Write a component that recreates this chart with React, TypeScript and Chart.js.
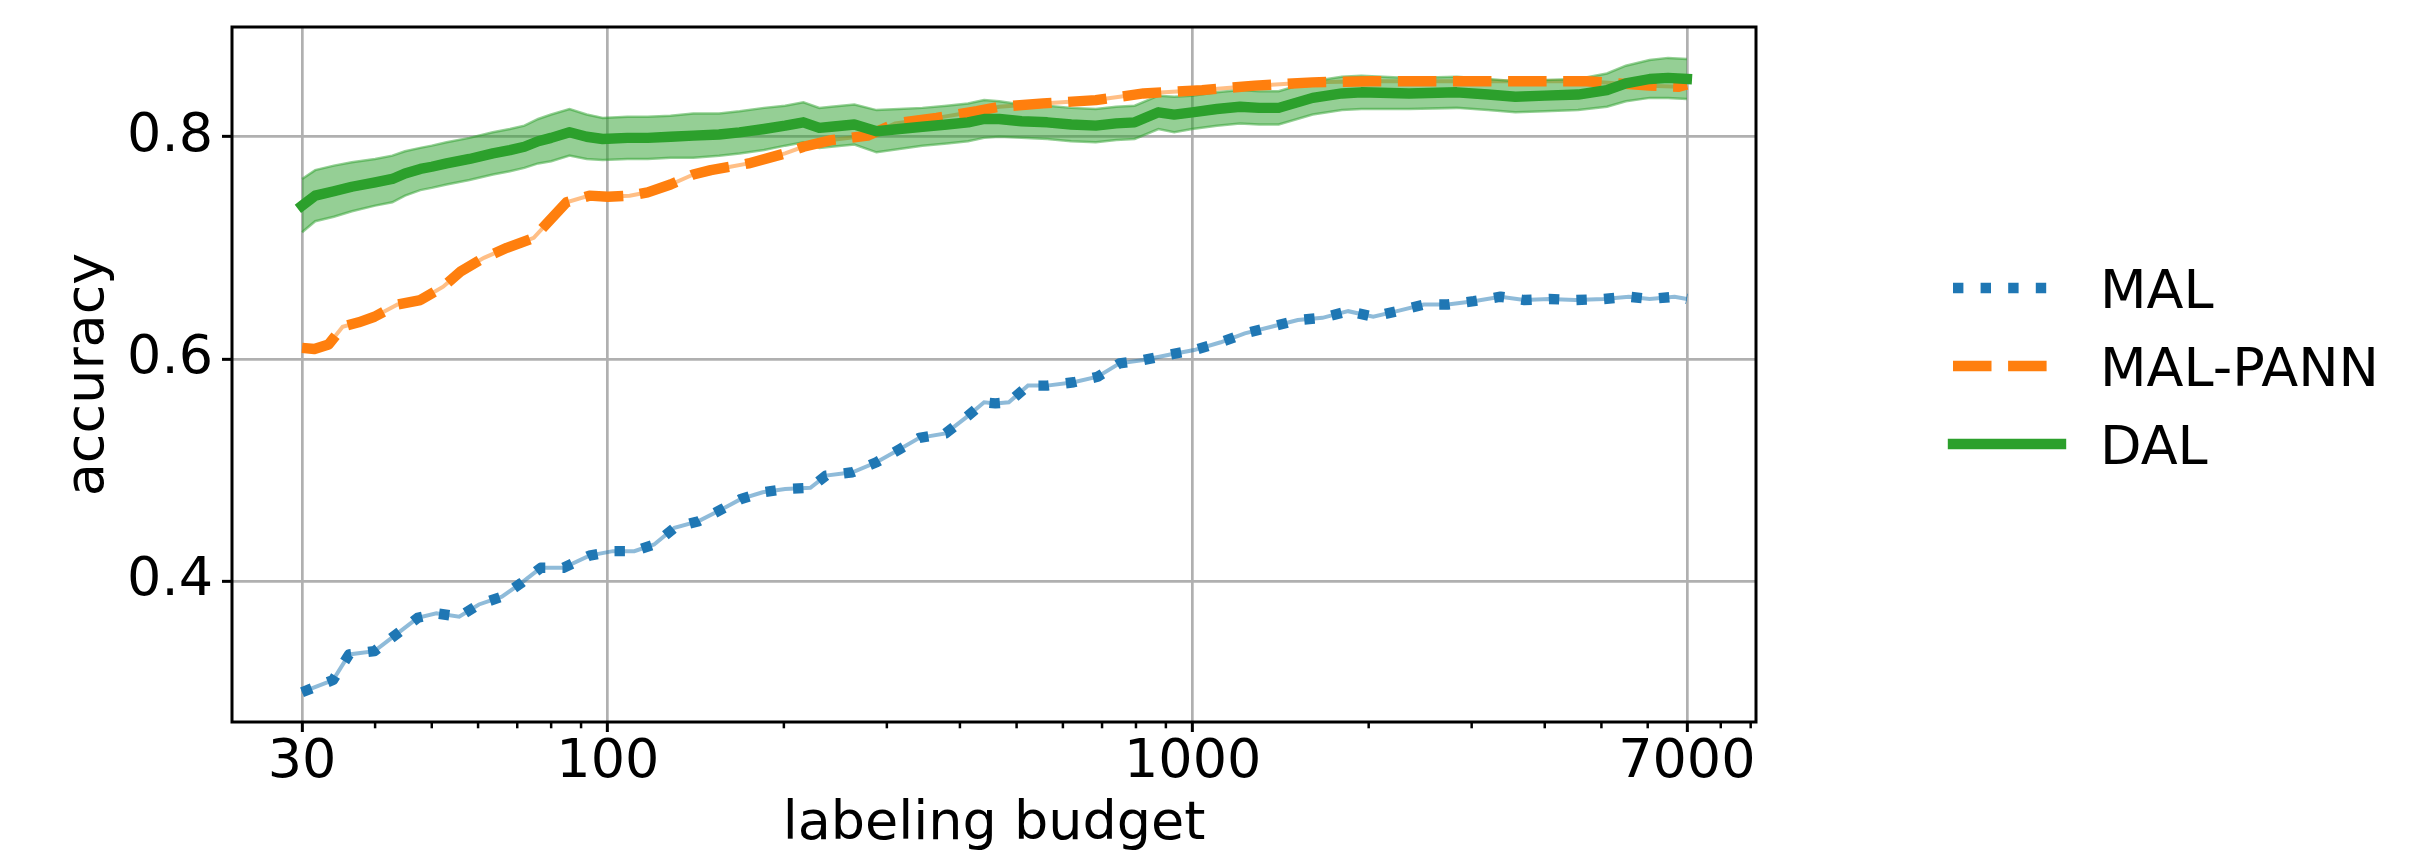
import React, { useEffect, useRef } from 'react';
import { Chart, registerables } from 'chart.js';

Chart.register(...registerables);

// ---------- data ----------
const MAL_X = [30, 33.9, 36.1, 39.9, 43.7, 47.3, 50.9, 55.7, 60.2, 65.9, 71, 76.8, 84, 93, 102, 111, 120, 130, 143, 157, 169, 184, 201, 222, 236, 262, 288, 316, 341, 378, 409, 440, 460, 485, 523, 564, 626, 688, 750, 824, 916, 1006, 1117, 1228, 1364, 1513, 1667, 1845, 2036, 2236, 2485, 2730, 3025, 3360, 3690, 4070, 4510, 5050, 5570, 6045, 6670, 7000];
const MAL_Y = [0.300, 0.311, 0.334, 0.337, 0.353, 0.367, 0.371, 0.368, 0.379, 0.386, 0.398, 0.412, 0.412, 0.423, 0.427, 0.427, 0.433, 0.448, 0.454, 0.465, 0.474, 0.480, 0.483, 0.484, 0.495, 0.498, 0.507, 0.519, 0.529, 0.533, 0.547, 0.561, 0.560, 0.561, 0.576, 0.576, 0.579, 0.584, 0.596, 0.599, 0.604, 0.608, 0.615, 0.623, 0.629, 0.635, 0.637, 0.643, 0.638, 0.643, 0.649, 0.649, 0.652, 0.656, 0.653, 0.654, 0.653, 0.654, 0.656, 0.654, 0.656, 0.654];

const PANN_X = [30, 31.5, 33.3, 35.2, 37.5, 39.9, 43.7, 47.8, 52.3, 56.1, 61.4, 67.2, 74.7, 79, 85, 93, 100, 109, 117, 128, 140, 150, 162, 174, 201, 216, 241, 278, 310, 365, 428, 467, 555, 683, 824, 1038, 1278, 1604, 2013, 2485, 3060, 3766, 4720, 6045, 6780, 7000];
const PANN_Y = [0.610, 0.609, 0.613, 0.629, 0.633, 0.638, 0.649, 0.653, 0.665, 0.679, 0.691, 0.700, 0.709, 0.723, 0.741, 0.747, 0.746, 0.747, 0.750, 0.757, 0.766, 0.770, 0.773, 0.776, 0.785, 0.791, 0.797, 0.801, 0.812, 0.817, 0.823, 0.827, 0.830, 0.833, 0.839, 0.842, 0.846, 0.849, 0.850, 0.850, 0.850, 0.850, 0.850, 0.846, 0.845, 0.847];

const DAL_X = [30, 31.6, 34, 36.5, 40, 42.8, 45, 47.8, 50, 53, 58, 63.6, 68, 72, 76, 80, 86, 92, 98, 108, 117, 128, 140, 155, 168, 185, 201, 216, 230, 241, 264, 288, 315, 345, 380, 413, 440, 467, 510, 564, 620, 683, 740, 796, 874, 930, 998, 1100, 1205, 1300, 1403, 1604, 1800, 1942, 2344, 2829, 3200, 3564, 4000, 4560, 5110, 5505, 6045, 6500, 7000];
const DAL_Y = [0.738, 0.747, 0.751, 0.755, 0.759, 0.762, 0.767, 0.771, 0.773, 0.776, 0.780, 0.785, 0.788, 0.791, 0.796, 0.799, 0.804, 0.800, 0.798, 0.799, 0.799, 0.800, 0.801, 0.802, 0.804, 0.807, 0.810, 0.813, 0.808, 0.809, 0.811, 0.805, 0.807, 0.809, 0.811, 0.813, 0.816, 0.816, 0.814, 0.813, 0.811, 0.810, 0.812, 0.813, 0.822, 0.820, 0.822, 0.825, 0.827, 0.826, 0.826, 0.835, 0.839, 0.840, 0.839, 0.840, 0.838, 0.836, 0.837, 0.838, 0.842, 0.848, 0.852, 0.853, 0.852];
const DAL_SD = [0.024, 0.023, 0.023, 0.022, 0.021, 0.021, 0.020, 0.019, 0.019, 0.019, 0.019, 0.019, 0.019, 0.019, 0.020, 0.021, 0.021, 0.020, 0.019, 0.019, 0.019, 0.019, 0.020, 0.019, 0.019, 0.019, 0.018, 0.018, 0.018, 0.018, 0.018, 0.019, 0.018, 0.017, 0.017, 0.017, 0.017, 0.016, 0.015, 0.015, 0.015, 0.015, 0.015, 0.015, 0.015, 0.016, 0.015, 0.015, 0.015, 0.015, 0.015, 0.015, 0.015, 0.015, 0.014, 0.014, 0.014, 0.014, 0.014, 0.014, 0.015, 0.016, 0.017, 0.018, 0.018];

const X_TICKS = [30, 100, 1000, 7000];
const X_MINOR_TICKS = [40, 50, 60, 70, 80, 90, 200, 300, 400, 500, 600, 700, 800, 900, 2000, 3000, 4000, 5000, 6000, 8000, 9000];
const Y_TICKS = [0.4, 0.6, 0.8];
const LEGEND_LABELS = ['MAL', 'MAL-PANN', 'DAL'];

const BLUE = '#1f77b4';
const ORANGE = '#ff7f0e';
const GREEN = '#2ca02c';
const LW = 10.4;
const FONT = 'DejaVu Sans';

const pts = (xs: number[], ys: number[]) => xs.map((x, i) => ({ x, y: ys[i] }));

export default function App() {
  const ref = useRef<HTMLCanvasElement>(null);

  useEffect(() => {
    const canvas = ref.current!;

    const decorPlugin = {
      id: 'decor',
      afterDraw(chart: any) {
        const { ctx, chartArea } = chart;
        const xs = chart.scales.x;
        ctx.save();
        // minor ticks
        ctx.strokeStyle = '#000';
        ctx.lineWidth = 2.5;
        ctx.setLineDash([]);
        for (const v of X_MINOR_TICKS) {
          const px = xs.getPixelForValue(v);
          if (px < chartArea.left || px > chartArea.right) continue;
          ctx.beginPath();
          ctx.moveTo(px, chartArea.bottom);
          ctx.lineTo(px, chartArea.bottom + 6.3);
          ctx.stroke();
        }
        // frame
        ctx.lineWidth = 3;
        ctx.strokeStyle = '#000';
        ctx.strokeRect(chartArea.left, chartArea.top, chartArea.right - chartArea.left, chartArea.bottom - chartArea.top);

        // legend
        const styles = [
          { color: BLUE, dash: [LW, 17.2], cap: 'butt' },
          { color: ORANGE, dash: [38.5, 16.6], cap: 'butt' },
          { color: GREEN, dash: [] as number[], cap: 'square' },
        ];
        const x0 = chartArea.right + 197;
        const x1 = x0 + 108;
        const rowY = [288, 366, 444];
        ctx.font = `54px "${FONT}"`;
        ctx.fillStyle = '#000';
        ctx.textBaseline = 'alphabetic';
        ctx.textAlign = 'left';
        LEGEND_LABELS.forEach((label, i) => {
          const s = styles[i];
          const y = rowY[i];
          ctx.beginPath();
          ctx.strokeStyle = s.color;
          ctx.lineWidth = LW;
          ctx.lineCap = s.cap as CanvasLineCap;
          ctx.setLineDash(s.dash);
          ctx.moveTo(x0, y);
          ctx.lineTo(x1, y);
          ctx.stroke();
          ctx.setLineDash([]);
          ctx.fillText(label, x1 + 39, y + 19.5);
        });
        ctx.restore();
      },
    };

    const upper = DAL_Y.map((v, i) => v + DAL_SD[i]);
    const lower = DAL_Y.map((v, i) => v - DAL_SD[i]);

    const gridOpts = {
      color: '#b0b0b0',
      lineWidth: 2.7,
      tickLength: 10,
      tickColor: '#000',
      tickWidth: 3,
    };

    const zeroPad = (s: any) => {
      s.paddingTop = 0;
      s.paddingBottom = 0;
      s.paddingLeft = 0;
      s.paddingRight = 0;
    };

    const chart = new Chart(canvas, {
      type: 'line',
      data: {
        datasets: [
          {
            label: 'DAL',
            data: pts(DAL_X, DAL_Y),
            borderColor: GREEN,
            borderWidth: LW,
            borderCapStyle: 'square',
            borderJoinStyle: 'round',
            pointRadius: 0,
            fill: false,
            order: 0,
          },
          {
            label: 'MAL-PANN',
            data: pts(PANN_X, PANN_Y),
            borderColor: ORANGE,
            borderWidth: LW,
            borderDash: [38.5, 16.6],
            borderCapStyle: 'butt',
            borderJoinStyle: 'round',
            pointRadius: 0,
            fill: false,
            order: 1,
          },
          {
            label: 'MAL',
            data: pts(MAL_X, MAL_Y),
            borderColor: BLUE,
            borderWidth: LW,
            borderDash: [LW, 17.2],
            borderCapStyle: 'butt',
            borderJoinStyle: 'round',
            pointRadius: 0,
            fill: false,
            order: 2,
          },
          {
            label: 'DAL upper',
            data: pts(DAL_X, upper),
            borderColor: 'rgba(44,160,44,0.5)',
            borderWidth: 2.5,
            backgroundColor: 'rgba(44,160,44,0.5)',
            pointRadius: 0,
            fill: 4,
            order: 3,
          },
          {
            label: 'DAL lower',
            data: pts(DAL_X, lower),
            borderColor: 'rgba(44,160,44,0.5)',
            borderWidth: 2.5,
            pointRadius: 0,
            fill: false,
            order: 4,
          },
          {
            label: 'MAL-PANN band',
            data: pts(PANN_X, PANN_Y),
            borderColor: 'rgba(255,127,14,0.5)',
            borderWidth: 4,
            pointRadius: 0,
            fill: false,
            order: 5,
          },
          {
            label: 'MAL band',
            data: pts(MAL_X, MAL_Y),
            borderColor: 'rgba(31,119,180,0.5)',
            borderWidth: 4,
            pointRadius: 0,
            fill: false,
            order: 6,
          },
        ],
      },
      options: {
        animation: false,
        responsive: false,
        devicePixelRatio: 1,
        events: [],
        layout: {
          autoPadding: false,
          padding: { left: 0, right: 674, top: 27, bottom: 0 },
        },
        plugins: {
          legend: { display: false },
          tooltip: { enabled: false },
        },
        scales: {
          x: {
            type: 'logarithmic',
            min: 22.77,
            max: 9190,
            bounds: 'data',
            afterBuildTicks: (s: any) => {
              s.ticks = X_TICKS.map((v) => ({ value: v }));
            },
            afterFit: (s: any) => {
              s.height = 128;
              zeroPad(s);
            },
            ticks: {
              autoSkip: false,
              maxRotation: 0,
              minRotation: 0,
              padding: 4,
              color: '#000',
              font: { family: FONT, size: 54, lineHeight: 1 },
              callback: (v: any) => String(v),
            },
            grid: gridOpts,
            border: { display: false },
            title: {
              display: true,
              text: 'labeling budget',
              color: '#000',
              font: { family: FONT, size: 54, lineHeight: 1 },
              padding: { top: 0, bottom: -2.3 },
            },
          },
          y: {
            type: 'linear',
            min: 0.2732,
            max: 0.8988,
            bounds: 'data',
            afterBuildTicks: (s: any) => {
              s.ticks = Y_TICKS.map((v) => ({ value: v }));
            },
            afterFit: (s: any) => {
              s.width = 232;
              zeroPad(s);
            },
            ticks: {
              padding: 9,
              color: '#000',
              font: { family: FONT, size: 54, lineHeight: 1 },
              callback: (v: any) => Number(v).toFixed(1),
            },
            grid: gridOpts,
            border: { display: false },
            title: {
              display: true,
              text: 'accuracy',
              color: '#000',
              font: { family: FONT, size: 54, lineHeight: 1 },
              padding: { top: 62, bottom: 0 },
            },
          },
        },
      } as any,
      plugins: [decorPlugin],
    });

    return () => chart.destroy();
  }, []);

  return (
    <div style={{ position: 'absolute', left: 0, top: 0, width: 2430, height: 850, background: '#fff' }}>
      <canvas ref={ref} width={2430} height={850} style={{ width: 2430, height: 850, display: 'block' }} />
    </div>
  );
}
